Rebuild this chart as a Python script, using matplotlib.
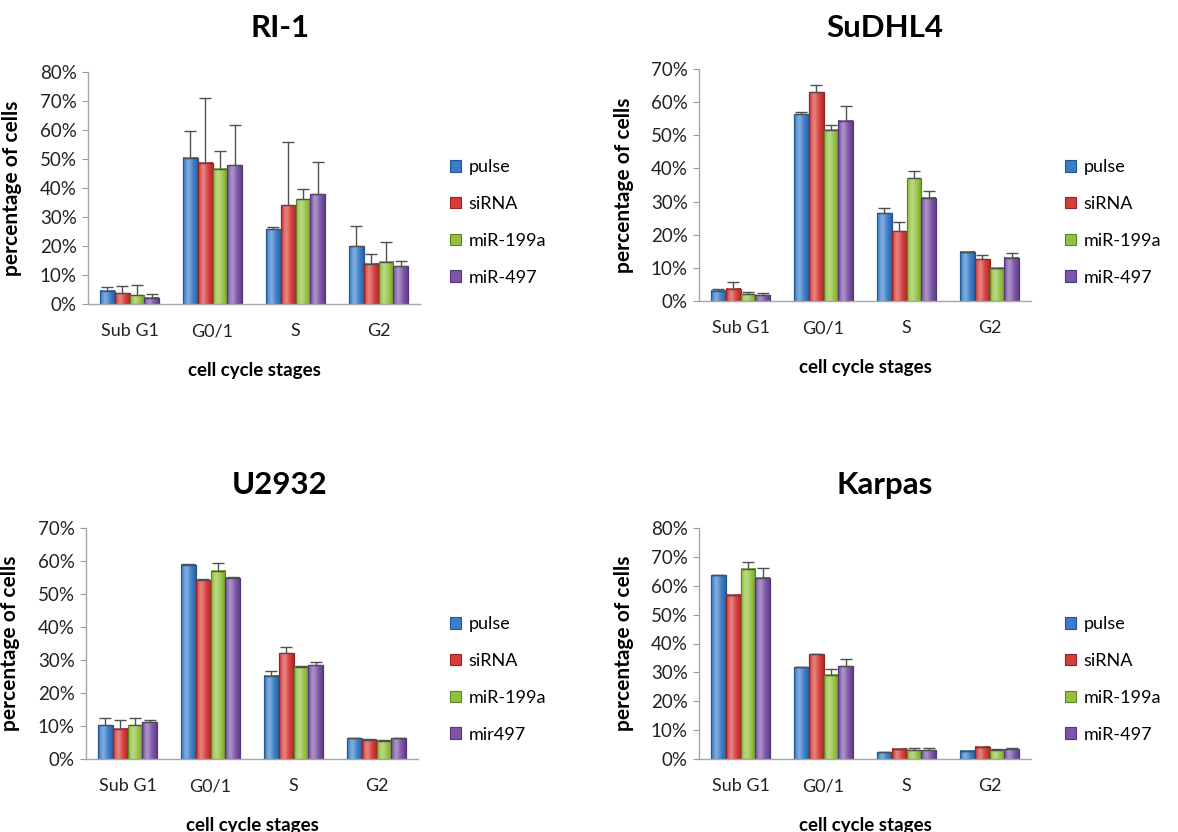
import matplotlib
matplotlib.use("Agg")
import matplotlib.pyplot as plt
import matplotlib.ticker as ticker
import matplotlib.colors as mcolors
import numpy as np

plt.rcParams['font.family'] = ['Lato', 'DejaVu Sans']

stages = ["Sub G1", "G0/1", "S", "G2"]
colours = ["#3a7dc9", "#d63c3a", "#92c23f", "#7c55a8"]
edges = ["#23558e", "#962322", "#5f8427", "#533579"]

# mean values (%) per treatment, in stage order
ri1_pulse = [4.6, 50.5, 25.8, 19.9]
ri1_sirna = [3.7, 48.7, 34.1, 13.9]
ri1_mir199a = [3.0, 46.6, 36.2, 14.5]
ri1_mir497 = [2.1, 47.8, 37.9, 13.1]
ri1_err_pulse = [1.1, 9.2, 0.8, 7.1]
ri1_err_sirna = [2.5, 22.4, 21.7, 3.3]
ri1_err_mir199a = [3.4, 6.1, 3.3, 6.9]
ri1_err_mir497 = [1.2, 13.9, 11.2, 1.9]

sud_pulse = [3.1, 56.3, 26.5, 14.8]
sud_sirna = [3.7, 63.0, 21.1, 12.6]
sud_mir199a = [2.0, 51.6, 37.1, 10.0]
sud_mir497 = [1.7, 54.4, 31.2, 13.0]
sud_err_pulse = [0.5, 0.8, 1.5, 0.1]
sud_err_sirna = [1.9, 2.2, 2.8, 1.4]
sud_err_mir199a = [0.6, 1.6, 2.2, 0.1]
sud_err_mir497 = [0.7, 4.3, 1.9, 1.6]

u29_pulse = [10.3, 58.9, 25.3, 6.3]
u29_sirna = [9.1, 54.2, 32.0, 5.9]
u29_mir199a = [10.3, 57.1, 28.0, 5.6]
u29_mir497 = [11.2, 55.0, 28.4, 6.3]
u29_err_pulse = [2.0, 0.1, 1.4, 0.2]
u29_err_sirna = [2.6, 0.2, 1.8, 0.3]
u29_err_mir199a = [2.2, 2.3, 0.3, 0.1]
u29_err_mir497 = [0.7, 0.1, 1.0, 0.2]

kar_pulse = [63.7, 31.8, 2.4, 2.8]
kar_sirna = [56.8, 36.3, 3.5, 4.2]
kar_mir199a = [65.9, 29.1, 3.0, 3.2]
kar_mir497 = [62.8, 32.1, 3.1, 3.3]
kar_err_pulse = [0.1, 0.1, 0.1, 0.1]
kar_err_sirna = [0.1, 0.1, 0.1, 0.1]
kar_err_mir199a = [2.3, 2.1, 0.9, 0.3]
kar_err_mir497 = [3.4, 2.5, 0.6, 0.4]

labels_std = ["pulse", "siRNA", "miR-199a", "miR-497"]
labels_u29 = ["pulse", "siRNA", "miR-199a", "mir497"]

W, H = 1178, 832

# name, values, errors, labels, ymax, axes px (left, top, right, bottom),
# title px, legend px, ylabel x px
panels = [
    ("RI-1", [ri1_pulse, ri1_sirna, ri1_mir199a, ri1_mir497],
     [ri1_err_pulse, ri1_err_sirna, ri1_err_mir199a, ri1_err_mir497],
     labels_std, 80, (88, 72, 420, 304), (280, 28), (443, 152), 22),
    ("SuDHL4", [sud_pulse, sud_sirna, sud_mir199a, sud_mir497],
     [sud_err_pulse, sud_err_sirna, sud_err_mir199a, sud_err_mir497],
     labels_std, 70, (699, 69, 1031, 301), (885, 28), (1058, 152), 634),
    ("U2932", [u29_pulse, u29_sirna, u29_mir199a, u29_mir497],
     [u29_err_pulse, u29_err_sirna, u29_err_mir199a, u29_err_mir497],
     labels_u29, 70, (86, 528, 418, 759), (280, 485), (443, 609), 20),
    ("Karpas", [kar_pulse, kar_sirna, kar_mir199a, kar_mir497],
     [kar_err_pulse, kar_err_sirna, kar_err_mir199a, kar_err_mir497],
     labels_std, 80, (699, 528, 1031, 759), (885, 485), (1058, 609), 634),
]


def shade(colour):
    # horizontal bevel-like gradient across a bar
    base = np.array(mcolors.to_rgb(colour))
    t = np.linspace(0, 1, 40)
    f = 0.35 * np.exp(-((t - 0.35) / 0.25) ** 2) - 0.25 * (np.abs(t - 0.45) / 0.55) ** 3
    rgb = np.where(f[:, None] > 0, base + (1 - base) * f[:, None], base * (1 + f[:, None]))
    return np.clip(rgb, 0, 1)[None, :, :]


fig = plt.figure(figsize=(W / 100, H / 100), dpi=100)

bar_w = 0.18
x = np.arange(len(stages)) + 0.5

for name, series, errs, labels, ymax, box, tpos, lpos, ylx in panels:
    l, t, r, b = box
    ax = fig.add_axes([l / W, 1 - b / H, (r - l) / W, (b - t) / H])
    handles = []
    for k, (vals, err) in enumerate(zip(series, errs)):
        pos = x + (k - 1.5) * bar_w
        vals = np.array(vals) / 100
        err = np.array(err) / 100
        bars = ax.bar(pos, vals, bar_w, color=colours[k], edgecolor=edges[k],
                      linewidth=0.8, zorder=2, label=labels[k])
        grad = shade(colours[k])
        for p in bars.patches:
            ax.imshow(grad, extent=[p.get_x(), p.get_x() + p.get_width(), 0, p.get_height()],
                      aspect="auto", zorder=2.2, interpolation="bilinear")
            ax.add_patch(plt.Rectangle((p.get_x(), 0), p.get_width(), p.get_height(),
                                       fill=False, edgecolor=edges[k], linewidth=0.8, zorder=2.4))
        ax.errorbar(pos, vals, yerr=[np.zeros_like(err), err], fmt="none",
                    ecolor="#505050", elinewidth=1.0, capsize=4, capthick=1.0, zorder=3)
        handles.append(bars)

    ax.set_xlim(0, 4)
    ax.set_ylim(0, ymax / 100)
    ax.set_aspect("auto")
    ax.yaxis.set_major_locator(ticker.MultipleLocator(0.1))
    ax.yaxis.set_major_formatter(ticker.PercentFormatter(1.0, decimals=0))
    ax.set_xticks(x)
    ax.set_xticklabels(stages)
    ax.tick_params(axis="x", length=0, pad=14, labelsize=13, colors="#222222")
    ax.tick_params(axis="y", length=4, width=0.8, color="#999999", pad=4,
                   labelsize=13.5, labelcolor="#222222")
    for s in ["top", "right"]:
        ax.spines[s].set_visible(False)
    for s in ["left", "bottom"]:
        ax.spines[s].set_color("#a6a6a6")
        ax.spines[s].set_linewidth(1.0)

    ax.set_ylabel("percentage of cells", fontsize=15, fontweight="bold")
    ax.yaxis.set_label_coords((ylx - l) / (r - l), 0.5)
    ax.set_xlabel("cell cycle stages", fontsize=13.5, fontweight="bold")
    ax.xaxis.set_label_coords(0.5, -58 / (b - t))

    fig.text(tpos[0] / W, 1 - tpos[1] / H, name, fontsize=22.5, fontweight="bold",
             ha="center", va="center")

    fig.legend(handles=handles, loc="upper left",
               bbox_to_anchor=(lpos[0] / W, 1 - lpos[1] / H),
               frameon=False, fontsize=13, handlelength=0.6, handleheight=0.6,
               handletextpad=0.4, labelspacing=1.15, borderaxespad=0)

fig.savefig("out.png", dpi=100)
